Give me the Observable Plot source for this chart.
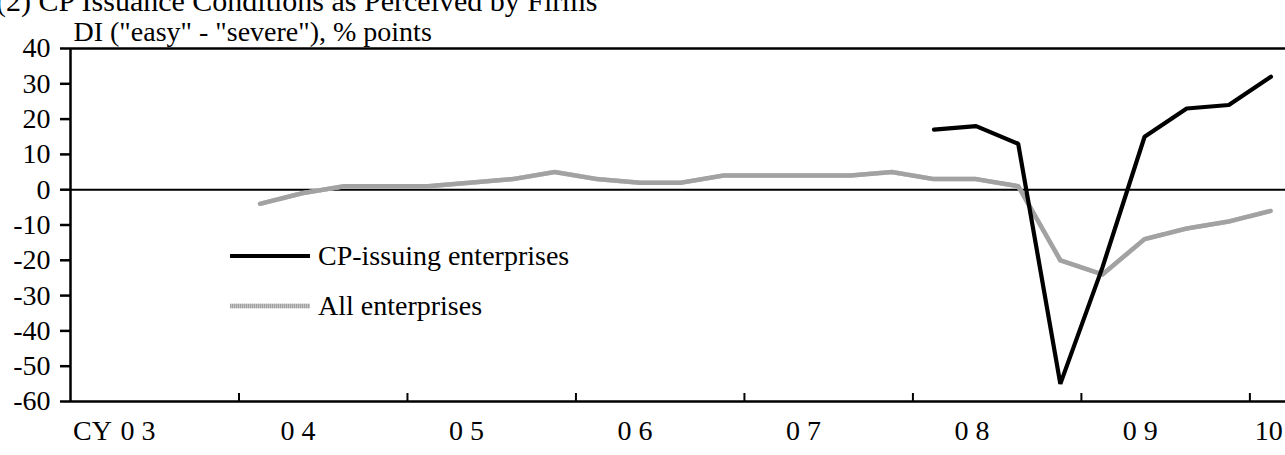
<!DOCTYPE html>
<html>
<head>
<meta charset="utf-8">
<script src="https://cdn.jsdelivr.net/npm/d3@7"></script>
<script src="https://cdn.jsdelivr.net/npm/@observablehq/plot@0.6"></script>
<style>
  html, body { margin: 0; padding: 0; background: #fff; overflow: hidden; }
  #wrap { position: relative; width: 1285px; height: 455px; overflow: hidden; font-family: "Liberation Serif", "Times New Roman", serif; }
  #title { position: absolute; left: -4px; top: -16px; font-size: 30px; line-height: 34px; white-space: nowrap; color: #000; }
  #legend { position: absolute; left: 230px; top: 231px; font-size: 28px; color: #000; }
  .row { display: flex; align-items: center; height: 50px; }
  .row svg { margin-right: 8px; }
</style>
</head>
<body>
<div id="wrap">
  <div id="chart"></div>
  <div id="title">(2) CP Issuance Conditions as Perceived by Firms</div>
  <div id="legend"></div>
</div>
<script>
// ---- data ----
const quartersAll = ["2004Q1","2004Q2","2004Q3","2004Q4","2005Q1","2005Q2","2005Q3","2005Q4",
  "2006Q1","2006Q2","2006Q3","2006Q4","2007Q1","2007Q2","2007Q3","2007Q4",
  "2008Q1","2008Q2","2008Q3","2008Q4","2009Q1","2009Q2","2009Q3","2009Q4","2010Q1"];
const allEnterprises = [-4,-1,1,1, 1,2,3,5, 3,2,2,4, 4,4,4,5, 3,3,1,-20, -24,-14,-11,-9, -6];
const quartersCP = ["2008Q1","2008Q2","2008Q3","2008Q4","2009Q1","2009Q2","2009Q3","2009Q4","2010Q1"];
const cpIssuing = [17,18,13,-55, -22,15,23,24, 32];
const seriesNames = ["CP-issuing enterprises", "All enterprises"];
const years = [2003,2004,2005,2006,2007,2008,2009,2010];
const yearLabels = ["0 3","0 4","0 5","0 6","0 7","0 8","0 9","10"];
const yTicks = [40,30,20,10,0,-10,-20,-30,-40,-50,-60];
const yLabel = 'DI ("easy" - "severe"), % points';
const xPrefix = "CY";

// ---- helpers ----
const firstYear = years[0];
const qIndex = s => (+s.slice(0,4) - firstYear) * 4 + (+s.slice(5) - 1) + 0.5;
const allData = quartersAll.map((q,i) => ({x: qIndex(q), y: allEnterprises[i]}));
const cpData = quartersCP.map((q,i) => ({x: qIndex(q), y: cpIssuing[i]}));
const nQ = years.length * 4 - 3; // through 2010Q1
const yearStarts = years.slice(1).map(y => (y - firstYear) * 4);
const labelData = years.map((y,i) => {
  const base = (y - firstYear) * 4;
  const off = i === 0 ? 1.6 : (i === years.length - 1 ? 0.45 : 1.4);
  return { x: base + off, t: yearLabels[i] };
});

const W = 1285, H = 455, ML = 70, MT = 48, MB = 54;
const qw = (1291.5 - ML) / nQ;
const FS = 28;
const GRAY_BASE = "#c4c4c4", GRAY_STRIPE = "#a2a2a2";

const chart = Plot.plot({
  width: W, height: H,
  marginLeft: ML, marginTop: MT, marginBottom: MB, marginRight: 0,
  style: { fontFamily: '"Liberation Serif", "Times New Roman", serif', fontSize: FS + "px", color: "#000", background: "#fff", overflow: "visible" },
  x: { domain: [0, nQ], range: [ML, ML + qw * nQ], axis: null },
  y: { domain: [-60, 40], axis: null },
  marks: [
    Plot.axisY({ ticks: yTicks, tickSize: 10, tickPadding: 10, tickFormat: d => String(d), strokeWidth: 2.5, fontSize: FS, label: null }),
    Plot.ruleY([0], { stroke: "#000", strokeWidth: 2 }),
    Plot.ruleY([40], { stroke: "#000", strokeWidth: 2.5 }),
    Plot.ruleY([-60], { stroke: "#000", strokeWidth: 2.5 }),
    Plot.ruleX([0], { stroke: "#000", strokeWidth: 2.5 }),
    Plot.ruleX(yearStarts, { x: d => d, insetTop: H - MT - MB - 8, stroke: "#000", strokeWidth: 2 }),
    Plot.line(allData, { x: "x", y: "y", stroke: GRAY_BASE, strokeWidth: 4.5 }),
    Plot.line(allData, { x: "x", y: "y", stroke: GRAY_STRIPE, strokeWidth: 4.5, strokeDasharray: "1 1" }),
    Plot.line(cpData, { x: "x", y: "y", stroke: "#000", strokeWidth: 4.2, strokeLinejoin: "miter", strokeLinecap: "round" }),
    Plot.text(labelData, { x: "x", text: "t", frameAnchor: "bottom", dy: 38, fontSize: FS, textAnchor: "middle" }),
    Plot.text([xPrefix], { x: () => 0.52, text: d => d, frameAnchor: "bottom", dy: 38, fontSize: FS, textAnchor: "middle" }),
    Plot.text([yLabel], { text: d => d, frameAnchor: "top-left", dx: 3, dy: -8, lineAnchor: "bottom", textAnchor: "start", fontSize: FS })
  ]
});
document.getElementById("chart").appendChild(chart);

// legend
const legend = document.getElementById("legend");
const rows = [
  `<line x1="0" y1="5" x2="80" y2="5" stroke="#000" stroke-width="4.2"/>`,
  `<line x1="0" y1="5" x2="80" y2="5" stroke="${GRAY_BASE}" stroke-width="4.5"/><line x1="0" y1="5" x2="80" y2="5" stroke="${GRAY_STRIPE}" stroke-width="4.5" stroke-dasharray="1 1"/>`
];
seriesNames.forEach((name, i) => {
  const row = document.createElement("div");
  row.className = "row";
  row.innerHTML = `<svg width="80" height="10">${rows[i]}</svg><span>${name}</span>`;
  legend.appendChild(row);
});
</script>
</body>
</html>
